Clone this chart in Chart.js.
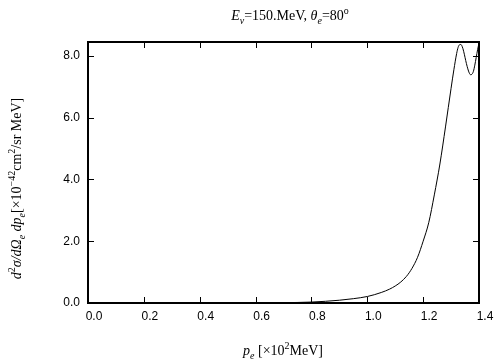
<!DOCTYPE html>
<html>
<head>
<meta charset="utf-8">
<script src="https://cdn.jsdelivr.net/npm/chart.js@4.4.1/dist/chart.umd.min.js"></script>
<style>
  html, body { margin: 0; padding: 0; background: #fff; }
  #wrap { width: 504px; height: 360px; position: relative; }
</style>
</head>
<body>
<div id="wrap"><canvas id="grafico"></canvas></div>
<script>
// Dados (p_e em 10^2 MeV, secção de choque em 10^-42 cm^2/sr MeV)
const momentum = [0.64, 0.70, 0.80, 0.90, 0.95, 1.00, 1.05, 1.08, 1.10, 1.12, 1.14, 1.16, 1.18, 1.20,
                  1.22, 1.24, 1.26, 1.28, 1.30, 1.31, 1.32, 1.325, 1.33, 1.335, 1.34, 1.345, 1.35,
                  1.355, 1.36, 1.365, 1.37, 1.375, 1.38, 1.385, 1.39, 1.395, 1.40];
const crossSection = [0.00, 0.01, 0.03, 0.09, 0.14, 0.21, 0.34, 0.45, 0.55, 0.68, 0.86, 1.12, 1.48, 2.00,
                      2.60, 3.50, 4.50, 5.70, 6.95, 7.55, 8.08, 8.27, 8.36, 8.37, 8.30, 8.15, 7.95,
                      7.75, 7.58, 7.45, 7.39, 7.41, 7.50, 7.70, 7.95, 8.20, 8.42];
const xTickValues = [0.0, 0.2, 0.4, 0.6, 0.8, 1.0, 1.2, 1.4];
const yTickValues = [0.0, 2.0, 4.0, 6.0, 8.0];

// Textos com índices (partes: t = texto, i = itálico, sub / sup)
const titleParts = [
    { t: 'E', i: true }, { t: 'ν', i: true, sub: true }, { t: '=150.MeV, ' },
    { t: 'θ', i: true }, { t: 'e', i: true, sub: true }, { t: '=80' }, { t: 'o', sup: true }
];
const yLabelParts = [
    { t: 'd', i: true }, { t: '2', sup: true }, { t: 'σ/dΩ', i: true }, { t: 'e', i: true, sub: true },
    { t: ' dp', i: true }, { t: 'e', i: true, sub: true }, { t: '[×10' }, { t: '−42', sup: true },
    { t: 'cm' }, { t: '2', sup: true }, { t: '/sr MeV]' }
];
const xLabelParts = [
    { t: 'p', i: true }, { t: 'e', i: true, sub: true }, { t: ' [×10' }, { t: '2', sup: true }, { t: 'MeV]' }
];

const SERIF = "'Liberation Serif', 'Times New Roman', serif";

function fontFor(p, size) {
    const s = (p.sub || p.sup) ? Math.round(size * 0.72) : size;
    return (p.i ? 'italic ' : '') + s + 'px ' + SERIF;
}

function drawRich(ctx, parts, x, y, size) {
    ctx.save();
    ctx.textBaseline = 'alphabetic';
    ctx.textAlign = 'left';
    let total = 0;
    parts.forEach(p => { ctx.font = fontFor(p, size); total += ctx.measureText(p.t).width; });
    let cx = x - total / 2;
    parts.forEach(p => {
        ctx.font = fontFor(p, size);
        let dy = 0;
        if (p.sub) dy = size * 0.25;
        if (p.sup) dy = -size * 0.4;
        ctx.fillText(p.t, cx, y + dy);
        cx += ctx.measureText(p.t).width;
    });
    ctx.restore();
}

// Moldura, marcas internas e textos
const molduraPlugin = {
    id: 'moldura',
    afterDraw(chart) {
        const { ctx, chartArea: a, scales } = chart;
        const tick = 6;
        ctx.save();
        ctx.strokeStyle = '#000';
        ctx.lineWidth = 1;
        ctx.beginPath();
        xTickValues.forEach(v => {
            const px = Math.round(scales.x.getPixelForValue(v)) + 0.5;
            ctx.moveTo(px, a.bottom); ctx.lineTo(px, a.bottom - tick);
            ctx.moveTo(px, a.top); ctx.lineTo(px, a.top + tick);
        });
        yTickValues.forEach(v => {
            const py = Math.round(scales.y.getPixelForValue(v)) + 0.5;
            ctx.moveTo(a.left, py); ctx.lineTo(a.left + tick, py);
            ctx.moveTo(a.right, py); ctx.lineTo(a.right - tick, py);
        });
        ctx.stroke();
        ctx.lineWidth = 2;
        ctx.strokeRect(a.left, a.top, a.right - a.left, a.bottom - a.top);

        ctx.fillStyle = '#000';
        drawRich(ctx, titleParts, 290, 20, 14);
        drawRich(ctx, xLabelParts, 283, 355, 14);
        ctx.translate(21, (a.top + a.bottom) / 2 + 16);
        ctx.rotate(-Math.PI / 2);
        drawRich(ctx, yLabelParts, 0, 0, 14);
        ctx.restore();
    }
};

const ctx = document.getElementById('grafico').getContext('2d');
const tickFont = { family: "'Liberation Sans', Arial, sans-serif", size: 12 };

new Chart(ctx, {
    type: 'scatter',
    data: {
        datasets: [{
            data: momentum.map((p, i) => ({ x: p, y: crossSection[i] })),
            showLine: true,
            borderColor: '#000',
            borderWidth: 1,
            pointRadius: 0,
            cubicInterpolationMode: 'monotone',
            fill: false
        }]
    },
    options: {
        responsive: true,
        maintainAspectRatio: false,
        animation: false,
        layout: { padding: { top: 42, right: 25, left: 0, bottom: 0 } },
        plugins: {
            legend: { display: false },
            tooltip: { enabled: false }
        },
        scales: {
            x: {
                type: 'linear',
                min: 0,
                max: 1.4,
                grid: { display: false, drawTicks: false },
                border: { display: false },
                afterBuildTicks: s => { s.ticks = xTickValues.map(v => ({ value: v })); },
                afterFit: s => { s.height = 57; },
                ticks: {
                    color: '#000',
                    font: tickFont,
                    padding: 6,
                    labelOffset: 6,
                    maxRotation: 0,
                    callback: v => Number(v).toFixed(1)
                }
            },
            y: {
                type: 'linear',
                min: 0,
                max: 8.45,
                grid: { display: false, drawTicks: false },
                border: { display: false },
                afterBuildTicks: s => { s.ticks = yTickValues.map(v => ({ value: v })); },
                afterFit: s => { s.width = 88; },
                ticks: {
                    color: '#000',
                    font: tickFont,
                    padding: 8,
                    callback: v => Number(v).toFixed(1)
                }
            }
        }
    },
    plugins: [molduraPlugin]
});
</script>
</body>
</html>
